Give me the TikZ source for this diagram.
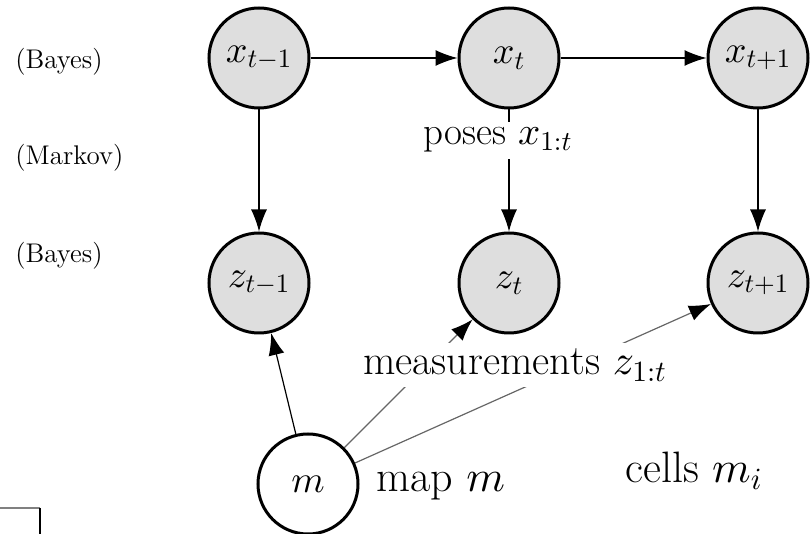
\documentclass[tikz,border=0pt]{standalone}
\usetikzlibrary{arrows.meta,backgrounds}
\DeclareFontShape{OML}{cmm}{m}{it}{<->cmmi10}{\skewchar\font=127}
\DeclareFontShape{OMS}{cmsy}{m}{n}{<->cmsy10}{\skewchar\font=48}
\DeclareFontShape{OT1}{cmr}{m}{n}{<->cmr10}{}
\tikzset{
  rv/.style={circle,draw=black,line width=1.5pt,fill=black!13,minimum size=50pt,inner sep=0pt,font=\fontsize{19}{22}\selectfont},
  mapnode/.style={rv,fill=white},
  side/.style={font=\fontsize{13.5}{15}\selectfont,anchor=west,inner sep=0pt},
  biglabel/.style={fill=white,inner sep=3pt,anchor=base},
  plainlabel/.style={font=\fontsize{22}{25}\selectfont,inner sep=0pt,anchor=base west},
  conn/.style={-{Latex[length=11pt,width=8pt]},line width=0.6pt},
  softconn/.style={line width=0.6pt,draw=black!60,-{Latex[length=11pt,width=8pt,color=black]}},
}
\begin{document}
\begin{tikzpicture}[x=0.5pt,y=-0.5pt]
\useasboundingbox (0,0) rectangle (810,534);
% random variables
\node[rv] (xa) at (259,58) {$x_{t-1}$};
\node[rv] (xb) at (509,58) {$x_{t}$};
\node[rv] (xc) at (758,58) {$x_{t+1}$};
\node[rv] (za) at (259,283) {$z_{t-1}$};
\node[rv] (zb) at (509,283) {$z_{t}$};
\node[rv] (zc) at (758,283) {$z_{t+1}$};
\node[mapnode] (m) at (308,484) {$m$};
% side labels
\node[side] (b1) at (15,62) {(Bayes)};
\node[side] (mk) at (15,158) {(Markov)};
\node[side] (b2) at (15,256) {(Bayes)};
% text labels
\node[biglabel,font=\fontsize{19.5}{22}\selectfont] (poses) at (498,145) {poses $x_{1:t}$};
\node[biglabel,font=\fontsize{21}{24}\selectfont] (meas) at (515,375) {measurements $z_{1:t}$};
\node[plainlabel] (maplbl) at (376,492) {map $m$};
\node[plainlabel] (cells) at (625,483) {cells $m_i$};
% connectors
\begin{scope}[on background layer]
\draw[conn] (xa) -- (xb);
\draw[conn] (xb) -- (xc);
\draw[conn] (xa) -- (za);
\draw[conn] (xb) -- (zb);
\draw[conn] (xc) -- (zc);
\draw[conn] (m) -- (za);
\draw[softconn] (m) -- (zb);
\draw[softconn] (m) -- (zc);
\end{scope}
% cropped corner mark
\coordinate (c1) at (0,508);
\coordinate (c2) at (40,508);
\coordinate (c3) at (40,534);
\draw[gray,line width=0.9pt] (c1) -- (c2);
\draw[black,line width=0.9pt] (c2) -- (c3);
\end{tikzpicture}
\end{document}
